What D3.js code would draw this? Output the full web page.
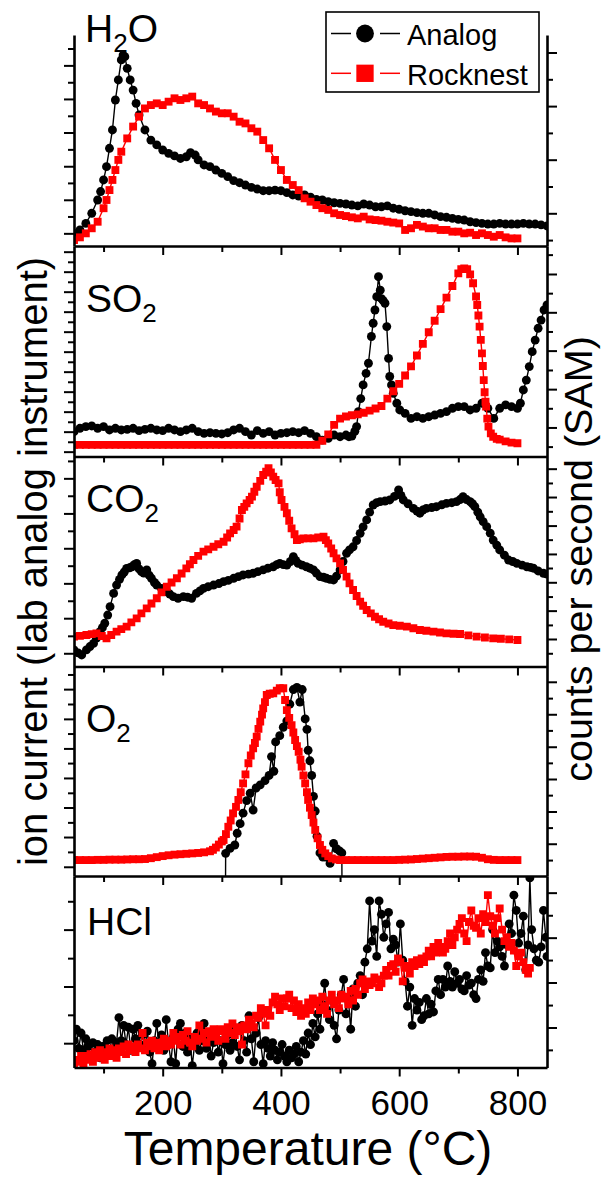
<!DOCTYPE html>
<html><head><meta charset="utf-8">
<script src="https://cdn.jsdelivr.net/npm/d3@7"></script>
<style>
body{margin:0;background:#fff}
svg text{font-family:"Liberation Sans",Arial,Helvetica,sans-serif}
</style>
</head><body>
<svg id="c" width="605" height="1178"></svg>
<script>
// ---------------- DATA (values in % of each panel's height) ----------------
const seriesNames = ["Analog", "Rocknest"];
const panelLabels = [["H","2","O"], ["SO","2",""], ["CO","2",""], ["O","2",""], ["HCl","",""]];
const xMajorTicks = [200, 400, 600, 800];
const xMinorTicks = [100, 300, 500, 700];
const xTitle = "Temperature (\u00B0C)";
const leftTitle = "ion current (lab analog instrument)";
const rightTitle = "counts per second (SAM)";

const h2oAnalog = [[50,6.0],[60,7.6],[70,10.7],[80,15.5],[90,21.8],[95,25.8],[100,31.3],[105,37.6],[110,46.3],[115,55],[120,69.2],[125,78.7],[130,88.2],[133,90.5],[136,89.7],[140,84.2],[145,78.7],[150,73.9],[155,67.6],[160,62.1],[170,55],[180,50.2],[190,47.9],[200,45.5],[210,43.9],[220,42.7],[230,41.5],[240,42.3],[247,44.2],[255,43.1],[260,40.8],[270,38.4],[280,37.6],[290,36],[300,34.4],[310,32.9],[320,31],[330,30],[340,28.9],[350,27.8],[360,27],[370,26.2],[380,26.2],[390,26.5],[400,26.2],[410,25.3],[420,24.2],[430,23.7],[440,24.2],[450,23.1],[460,22.1],[470,21.8],[480,21],[490,20.5],[500,20.2],[510,19.9],[520,19.4],[530,19],[540,19.9],[550,19.4],[560,18.6],[570,18.6],[580,19],[590,17.9],[600,17.4],[610,16.7],[620,16.3],[630,15.8],[640,15.5],[650,15.5],[660,14.7],[670,13.9],[680,13.6],[690,13.1],[700,12.6],[710,12.3],[720,11.5],[730,11.1],[740,10.7],[750,10.4],[760,10.4],[770,10.7],[780,10.4],[790,10.4],[800,10.4],[810,10.7],[820,10.4],[830,10.4],[840,10],[850,9.5]];
const h2oRocknest = [[50,2.8],[60,4.1],[70,6],[80,8.4],[90,11.5],[100,17.9],[105,21.8],[110,26.5],[115,31.3],[120,36],[125,40.8],[130,44.7],[140,51],[150,56.6],[160,61.3],[170,65.2],[180,66.8],[190,67.6],[200,66.8],[210,68.4],[220,70],[230,69.2],[240,70],[250,70.8],[260,67.6],[270,66.8],[280,65.2],[290,63.7],[300,62.9],[310,62.9],[320,61.3],[330,58.9],[340,58.1],[350,55.8],[360,54.2],[370,50.2],[380,46.3],[390,40.8],[400,36],[410,31.3],[420,28.9],[430,26.5],[440,22.6],[450,21],[460,19.4],[470,17.9],[480,17.1],[490,15.5],[500,14.7],[510,14.2],[520,13.6],[530,13.1],[540,13.9],[550,12.6],[560,12.3],[570,12],[580,11.5],[590,11.1],[600,10.7],[610,7.6],[620,8.4],[630,10],[640,9.2],[650,8.4],[660,8.4],[670,7.6],[680,7.6],[690,6.8],[700,6.8],[710,6],[720,6.3],[730,5.2],[740,6],[750,5.2],[760,4.4],[770,5.2],[780,4.1],[790,3.6],[800,3.6]];

const so2Analog = [[50,11.8],[60,13.4],[70,14.2],[80,14.5],[90,13.4],[100,14.2],[110,12.6],[120,13.4],[130,12.6],[140,12.9],[150,13.4],[160,12.3],[170,12.9],[180,13.4],[190,12.6],[200,12.3],[210,13.4],[220,12.6],[230,11.8],[240,12.6],[250,13.4],[260,11.8],[270,11],[280,11.3],[290,11],[300,10.7],[310,11.3],[320,12.6],[330,13.4],[340,11.8],[350,10.2],[360,12.3],[370,11],[380,11.8],[390,10.2],[400,11],[410,11.3],[420,11.8],[430,11.3],[440,12.3],[450,11],[460,9.4],[470,7.8],[480,8.6],[490,10.2],[500,9.4],[510,10.2],[515,9.4],[520,9.7],[525,12],[528,14.2],[531,21.3],[535,27.5],[539,34],[544,39.5],[548,44.3],[553,57],[556,63.3],[559,69.6],[562,75.9],[565,85.4],[568,79],[570,75],[573,74],[576,72.8],[579,61.7],[582,46.6],[584,38],[587,34],[590,30],[596,25.3],[601,22.1],[610,20.5],[620,18.1],[630,18.9],[640,18.1],[650,18.9],[660,19.7],[670,20.5],[680,21.3],[690,22.9],[700,23.7],[710,23.7],[720,22.1],[730,22.9],[740,25.3],[750,22.9],[760,18.1],[770,22.9],[780,24.5],[790,23.7],[800,22.9],[805,25.3],[810,31.6],[815,36.3],[820,42.7],[825,49.8],[830,55.3],[835,60.9],[840,64.8],[845,69.6],[850,72]];
const so2Rocknest = [[50,5.5],[60,5.5],[70,5.5],[80,5.5],[90,5.5],[100,5.5],[110,5.5],[120,5.5],[130,5.5],[140,5.5],[150,5.5],[160,5.5],[170,5.5],[180,5.5],[190,5.5],[200,5.5],[210,5.5],[220,5.5],[230,5.5],[240,5.5],[250,5.5],[260,5.5],[270,5.5],[280,5.5],[290,5.5],[300,5.5],[310,5.5],[320,5.5],[330,5.5],[340,5.5],[350,5.5],[360,5.5],[370,5.5],[380,5.5],[390,5.5],[400,5.5],[410,5.5],[420,5.5],[430,5.5],[440,5.5],[450,5.5],[460,5.6],[470,7.5],[480,10.5],[490,15],[500,18],[510,19],[520,19.6],[530,20],[540,20.8],[550,21.8],[560,22.8],[570,24],[580,27.5],[590,31],[600,34.5],[610,38.5],[620,42.8],[630,48],[640,53.5],[650,59],[660,64.5],[670,70],[680,75.5],[690,81],[700,87],[705,89],[710,89.4],[715,89],[720,86.5],[725,82.3],[730,76],[732,72],[734,67],[736,61.7],[738,55.4],[740,49],[741.5,43],[743,36.3],[744.5,30.5],[746,26],[747,23.7],[749,18],[751,14.2],[755,11],[759,9.4],[765,8.4],[770,8],[780,7.2],[790,6.6],[800,6.3]];

const co2Analog = [[50,7.9],[57,6.5],[63,5.5],[71,7.9],[77,9.5],[83,11],[88,13.5],[94,16.6],[98,18.5],[102,20.6],[107,24.5],[111,28.5],[117,34.8],[122,38.8],[127,41.5],[131,43.6],[135,45],[139,46.7],[144,47],[148,47.5],[152,48.5],[156,49.1],[160,46.5],[164,45.2],[168,44.5],[173,46],[177,43.5],[181,42],[186,40],[190,38.8],[198,37.2],[207,35.6],[212,34.5],[218,33.3],[226,32.5],[235,33.3],[242,33],[249,32.5],[257,34.8],[263,36],[269,37.2],[277,38],[286,38.8],[295,39.5],[303,40.4],[311,41],[320,42],[328,42.8],[336,43.6],[345,44],[353,44.4],[361,45.2],[370,46],[378,46.8],[387,47.5],[393,48.5],[398,49.1],[404,48.5],[410,48.3],[416,50],[421,52.3],[425,50.5],[429,49.1],[436,48.3],[443,47.5],[449,46.8],[455,46],[460,44.5],[466,42.8],[472,42.5],[477,42],[483,41.5],[489,41.2],[494,43],[500,46],[505,50],[511,53.9],[516,55.5],[522,57],[528,60],[534,63.4],[539,66.5],[545,69.8],[550,73.5],[556,76.9],[562,78],[568,78.5],[576,78.8],[584,79.3],[592,81],[599,84.1],[603,81.5],[607,79.3],[615,77.5],[624,75.3],[630,74],[635,73],[640,74.5],[646,75.3],[655,75.7],[663,76.1],[672,77],[680,77.7],[689,78],[697,78.5],[703,79.5],[708,80.9],[714,79.5],[720,78.5],[724,77.5],[728,76.1],[733,73.5],[737,71.3],[742,69],[748,66.6],[754,63.5],[759,60.2],[765,57.8],[770,55.5],[778,53],[785,50.7],[792,50],[799,49.1],[808,48.3],[816,47.5],[822,47.2],[827,46.8],[835,45.5],[844,44.4],[850,44]];
const co2Rocknest = [[50,14.2],[60,14.6],[71,15],[80,15.4],[88,15.8],[97,14.5],[105,13.4],[113,15],[122,16.6],[130,17.8],[139,19],[147,21],[156,22.9],[164,25.3],[173,27.7],[181,30],[190,32.5],[198,35.3],[207,38],[215,40],[224,42],[232,44.3],[240,46.7],[246,48.7],[252,50.7],[260,52.7],[269,54.7],[277,55.8],[286,57],[294,58.2],[303,59.4],[309,61.4],[314,63.4],[320,65],[325,66.6],[330,70.5],[334,74.5],[338,76],[342,77.7],[347,79.3],[351,80.9],[355,83.2],[359,85.6],[365,88.4],[370,91.2],[375,92.8],[379,94.4],[383,92.4],[387,90.4],[391,88.8],[396,87.2],[398,83],[401,79.3],[406,76],[410,73],[414,69.4],[418,65.8],[423,63],[427,60.2],[432,60.6],[438,61],[446,61],[455,61],[463,61.4],[472,61.8],[476,60.2],[480,58.6],[485,56.2],[489,53.9],[494,51.5],[500,49.1],[505,46],[511,42.8],[516,39.6],[522,36.4],[528,33.6],[534,30.9],[539,28.9],[545,26.9],[552,25.3],[559,23.7],[566,22.5],[573,21.3],[582,20.5],[590,19.7],[601,19.4],[613,19],[624,18.2],[635,17.4],[646,17],[658,16.6],[669,16.2],[680,15.8],[692,15.6],[703,15.5],[717,14.8],[731,14.2],[745,13.8],[759,13.4],[772,13.2],[786,12.9],[800,12.6]];

const o2Analog = [[306,-20],[306.5,10.8],[314,13.2],[322,14.8],[326,20.4],[331,25],[336,30],[342,36],[348,39.5],[353,31.5],[358,42],[365,43.5],[373,45.5],[380,48],[384,57],[388,50],[391,64],[398,67],[404,71],[410,74],[415,82],[421,89],[427,90],[432,83],[436,89],[441,75],[444,70],[446,60],[449,55],[452,48],[455,38],[458,31],[461,19],[466,11],[471,9],[476,9],[483,6],[489,15.6],[494,13],[499,12],[503,11],[503.5,-20]];
const o2Rocknest = [[50,7.6],[60,7.6],[70,7.6],[80,7.6],[90,7.7],[100,7.7],[110,7.8],[120,7.8],[130,7.8],[140,7.9],[150,8],[160,8],[170,8.1],[180,8.5],[190,9],[200,9.5],[210,9.9],[220,10.2],[230,10.4],[240,10.6],[250,10.8],[260,11],[270,11.3],[280,11.8],[285,12.5],[290,13.6],[295,15],[300,16.5],[303,17.2],[307,20],[311,23.5],[315,26.5],[319,29.9],[324,33],[328,36.3],[332,40],[336,44.2],[340,48.5],[345,53.8],[349,57.5],[353,60.9],[356,63.5],[359,66.5],[362,70.2],[365,73.7],[368,77],[370,80],[373,83],[376,86.4],[381,87],[387,87.2],[393,88.5],[398,89.6],[404,89.6],[407,84],[410,79.2],[414,75.5],[418,72],[421,68.5],[424,64.9],[427,62],[430,59.3],[433,55.5],[435,52.2],[438,48],[441,44.2],[444,40],[446,36.3],[449,32.6],[452,29.1],[455,25.5],[458,22],[462,18],[466,14.8],[470,12.5],[475,10.8],[480,9.5],[486,8.4],[493,7.9],[500,7.6],[510,7.6],[520,7.6],[530,7.6],[540,7.6],[550,7.6],[560,7.6],[570,7.6],[580,7.6],[590,7.6],[600,7.7],[610,7.8],[620,7.9],[630,8.1],[640,8.3],[650,8.5],[660,8.7],[670,8.9],[680,9.1],[690,9.2],[700,9.2],[710,9.3],[720,9.3],[730,9.2],[740,8.7],[750,8],[760,7.7],[770,7.6],[780,7.6],[790,7.6],[800,7.6]];

const hclAnalog = [[50,14],[54,20],[58,10],[62,18],[66,9],[70,15],[74,11],[78,6],[82,13],[86,8],[90,12],[94,5],[98,11],[102,9],[106,14],[110,8],[114,15],[118,10],[122,13],[126,26],[130,14],[134,22],[138,12],[142,21],[146,9],[150,20],[154,15],[158,22],[162,12],[166,17],[170,10],[174,19],[178,8],[182,2],[186,14],[190,23],[194,11],[198,17],[202,9],[206,25],[210,12],[214,3],[218,16],[222,2],[226,20],[230,23],[234,11],[238,18],[242,8],[246,15],[250,1],[254,12],[258,18],[262,9],[266,14],[270,23],[274,10],[278,16],[282,6],[286,13],[290,19],[294,8],[298,14],[302,2],[306,12],[310,17],[314,9],[318,13],[322,20],[326,11],[330,4],[334,22],[338,14],[342,8],[346,27],[350,15],[354,3],[358,18],[362,26],[366,12],[370,2],[374,14],[378,10],[382,6],[386,13],[390,9],[394,4],[398,8],[402,12],[406,6],[410,3],[414,9],[418,5],[422,7],[426,11],[430,3],[434,8],[438,14],[442,7],[446,18],[450,12],[454,23],[458,16],[462,28],[466,20],[470,33],[474,44],[478,30],[482,25],[486,35],[490,22],[494,15],[498,30],[502,38],[506,46],[510,28],[514,36],[518,20],[522,41],[526,32],[530,44],[534,48],[538,38],[542,55],[546,62],[550,87],[554,66],[558,72],[562,58],[566,87],[570,80],[574,68],[578,75],[582,81],[586,62],[590,67],[594,64],[598,55],[602,75],[606,56],[610,45],[614,32],[618,42],[622,22],[626,36],[630,30],[634,34],[638,25],[642,27],[646,36],[650,28],[654,33],[658,29],[662,40],[666,46],[670,38],[674,46],[678,42],[682,53],[686,45],[690,42],[694,50],[698,44],[702,46],[706,41],[710,40],[714,48],[718,43],[722,44],[726,38],[730,36],[734,46],[738,51],[742,45],[746,60],[750,53],[754,52],[758,72],[762,60],[766,66],[770,63],[774,58],[778,53],[782,64],[786,75],[790,70],[794,90],[798,82],[802,65],[806,70],[810,79],[814,51],[818,64],[821,99],[824,72],[828,62],[832,56],[836,55],[840,63],[844,82],[848,68],[850,58]];
const hclRocknest = [[50,2],[54,4],[58,3],[62,6],[66,2],[70,6],[74,4],[78,7],[82,3],[86,8],[90,5],[94,9],[98,6],[102,4],[106,8],[110,10],[114,6],[118,9],[122,5],[126,10],[130,8],[134,11],[138,7],[142,12],[146,9],[150,11],[154,8],[158,12],[162,10],[166,18],[170,9],[174,13],[178,11],[182,14],[186,10],[190,13],[194,9],[198,12],[202,15],[206,11],[210,14],[214,12],[218,18],[222,14],[226,16],[230,12],[234,17],[238,14],[242,19],[246,13],[250,11],[254,16],[258,14],[262,22],[266,15],[270,18],[274,13],[278,19],[282,16],[286,20],[290,17],[294,14],[298,20],[302,19],[306,15],[310,21],[314,18],[318,23],[322,17],[326,21],[330,19],[334,12],[338,22],[342,20],[346,25],[350,23],[354,21],[358,27],[362,26],[366,31],[370,28],[374,22],[378,30],[382,27],[386,34],[390,37],[394,33],[398,30],[402,36],[406,32],[410,36],[414,38],[418,31],[422,35],[426,29],[430,33],[434,27],[438,31],[442,28],[446,34],[450,30],[454,36],[458,33],[462,35],[466,30],[470,37],[474,32],[478,28],[482,35],[486,38],[490,33],[494,35],[498,31],[502,38],[506,36],[510,37],[514,33],[518,40],[522,35],[526,41],[530,38],[534,44],[538,46],[542,41],[546,45],[550,43],[554,44],[558,47],[562,46],[566,42],[570,44],[574,48],[578,51],[582,48],[586,53],[590,54],[594,50],[598,57],[602,55],[606,45],[610,52],[614,53],[618,49],[622,55],[626,53],[630,56],[634,54],[638,57],[642,55],[646,58],[650,61],[654,58],[658,63],[662,60],[666,65],[670,63],[674,60],[678,62],[682,66],[686,70],[690,64],[694,68],[698,72],[702,75],[706,78],[710,70],[714,66],[718,76],[722,82],[726,74],[730,73],[734,78],[738,70],[742,80],[746,76],[750,90],[754,79],[758,74],[762,70],[766,78],[770,83],[774,72],[778,66],[782,68],[786,63],[790,65],[794,61],[798,53],[802,58],[806,60],[810,55],[814,51],[818,49],[821,52]];

// y tick positions (same % units)
const leftTicks = [
  [6.0,14.0,21.9,29.9,37.8,45.8,53.8,61.7,69.7,77.6,85.6,93.6],
  [2.3,7.0,11.8,16.5,21.3,26.0,30.8,35.5,40.3,45.0,49.8,54.5,59.3,64.0,68.8,73.5,78.3,83.0,87.8,92.5,97.3],
  [6.3,14.6,23.0,31.3,39.6,48.0,56.3,64.6,72.9,81.3,89.6,97.9],
  [4.4,11.5,18.6,25.6,32.7,39.7,46.8,53.9,60.9,68.0,75.0,82.1,89.2,96.2],
  [12.7,27.5,42.3,57.1,72.0,86.8]
];
const rightTicks = [
  [2.8,15.5,28.2,40.9,53.6,66.3,79.0,91.7],
  [4.7,13.8,22.9,32.0,41.1,50.3,59.4,68.5,77.6,86.7,95.9],
  [6.3,13.1,19.8,26.6,33.3,40.1,46.9,53.6,60.4,67.1,73.9,80.7,87.4,94.2],
  [7.6,15.4,23.1,30.8,38.6,46.3,54.0,61.7,69.5,77.2,84.9,92.7],
  [9.2,20.9,32.6,44.4,56.1,67.8,79.5,91.3]
];

const analogSeries = [h2oAnalog, so2Analog, co2Analog, o2Analog, hclAnalog];
const rocknestSeries = [h2oRocknest, so2Rocknest, co2Rocknest, o2Rocknest, hclRocknest];

// ---------------- LAYOUT ----------------
const svg = d3.select("#c");
const X0 = 74, X1 = 547;
const panelTop = [35, 246, 456.5, 666.5, 876];
const panelBottom = [246, 456.5, 666.5, 876, 1067.5];
const labelPos = [[85, 41.7], [86, 311.7], [86, 511.7], [86, 731.7], [87, 935]];
const x = d3.scaleLinear().domain([50, 850]).range([X0, X1]);
const black = "#000", red = "#ff0000";

function styleAxis(g, keepDomain) {
  g.selectAll(".domain").attr("stroke", "#000").attr("stroke-width", 2.6);
  if (!keepDomain) g.select(".domain").remove();
  g.selectAll(".tick line").attr("stroke", "#000").attr("stroke-width", 2);
}

function drawSeries(g, data, y, color, isCircle) {
  g.append("path").datum(data)
    .attr("d", d3.line().x(d => x(d[0])).y(d => y(d[1])))
    .attr("fill", "none").attr("stroke", color).attr("stroke-width", 1.4);
  const sym = d3.symbol().type(isCircle ? d3.symbolCircle : d3.symbolSquare).size(isCircle ? 62 : 62);
  g.selectAll(null).data(data).join("path")
    .attr("transform", d => `translate(${x(d[0])},${y(d[1])})`)
    .attr("d", sym).attr("fill", color);
}

const defs = svg.append("defs");
for (let i = 0; i < 5; i++) {
  const top = panelTop[i], bot = panelBottom[i];
  const yL = d3.scaleLinear().domain([0, 100]).range([bot, top]);
  const yR = d3.scaleLinear().domain([0, 100]).range([bot, top]);
  defs.append("clipPath").attr("id", "clip" + i).append("rect")
    .attr("x", X0).attr("y", top).attr("width", X1 - X0).attr("height", bot - top);
  const g = svg.append("g").attr("clip-path", `url(#clip${i})`);
  drawSeries(g, analogSeries[i], yL, black, true);
  drawSeries(g, rocknestSeries[i], yR, red, false);

  // left axis
  const lMaj = leftTicks[i].filter((d, j) => j % 2 === 0), lMin = leftTicks[i].filter((d, j) => j % 2 === 1);
  svg.append("g").attr("transform", `translate(${X0},0)`)
    .call(d3.axisLeft(yL).tickValues(lMaj).tickSize(10).tickSizeOuter(0).tickFormat(""))
    .call(g2 => styleAxis(g2, true));
  svg.append("g").attr("transform", `translate(${X0},0)`)
    .call(d3.axisLeft(yL).tickValues(lMin).tickSize(6).tickSizeOuter(0).tickFormat(""))
    .call(g2 => styleAxis(g2, false));
  // right axis
  const rMaj = rightTicks[i].filter((d, j) => j % 2 === 1), rMin = rightTicks[i].filter((d, j) => j % 2 === 0);
  svg.append("g").attr("transform", `translate(${X1},0)`)
    .call(d3.axisRight(yR).tickValues(rMaj).tickSize(10).tickSizeOuter(0).tickFormat(""))
    .call(g2 => styleAxis(g2, true));
  svg.append("g").attr("transform", `translate(${X1},0)`)
    .call(d3.axisRight(yR).tickValues(rMin).tickSize(6).tickSizeOuter(0).tickFormat(""))
    .call(g2 => styleAxis(g2, false));
  // bottom axis
  const last = i === 4;
  const gx = svg.append("g").attr("transform", `translate(0,${bot})`)
    .call(d3.axisBottom(x).tickValues(xMajorTicks).tickSize(9).tickSizeOuter(0)
      .tickFormat(last ? d3.format("d") : ""))
    .call(g2 => styleAxis(g2, true));
  gx.attr("font-size", null).attr("font-family", null);
  gx.selectAll("text").attr("dy", null).attr("y", 47.5)
    .attr("font-size", 35).attr("fill", "#000");
  svg.append("g").attr("transform", `translate(0,${bot})`)
    .call(d3.axisBottom(x).tickValues(xMinorTicks).tickSize(6).tickSizeOuter(0).tickFormat(""))
    .call(g2 => styleAxis(g2, false));

  // panel label
  const lab = panelLabels[i];
  const t = svg.append("text").attr("x", labelPos[i][0]).attr("y", labelPos[i][1])
    .attr("font-size", 39).attr("fill", "#000");
  t.append("tspan").text(lab[0]);
  if (lab[1]) t.append("tspan").attr("dy", 10).attr("font-size", 26).text(lab[1]);
  if (lab[2]) t.append("tspan").attr("dy", -10).text(lab[2]);
}

// legend
const lg = svg.append("g");
lg.append("rect").attr("x", 326).attr("y", 12).attr("width", 213).attr("height", 80)
  .attr("fill", "#fff").attr("stroke", "#000").attr("stroke-width", 1.6);
const legendY = [33.5, 73.3];
seriesNames.forEach((name, k) => {
  const col = k === 0 ? black : red;
  const yy = legendY[k];
  lg.append("line").attr("x1", 331).attr("x2", 351).attr("y1", yy).attr("y2", yy).attr("stroke", col).attr("stroke-width", 1.5);
  lg.append("line").attr("x1", 380).attr("x2", 400).attr("y1", yy).attr("y2", yy).attr("stroke", col).attr("stroke-width", 1.5);
  lg.append("path").attr("transform", `translate(365,${yy})`)
    .attr("d", d3.symbol().type(k === 0 ? d3.symbolCircle : d3.symbolSquare).size(k === 0 ? 250 : 300)())
    .attr("fill", col);
  lg.append("text").attr("x", 407).attr("y", yy + 11.5).attr("font-size", 29).attr("fill", "#000").text(name);
});

// axis titles
svg.append("text").attr("x", 308).attr("y", 1165).attr("text-anchor", "middle")
  .attr("font-size", 48).attr("fill", "#000").text(xTitle);
svg.append("text").attr("transform", "translate(47,561.5) rotate(-90)").attr("text-anchor", "middle")
  .attr("font-size", 40).attr("fill", "#000").text(leftTitle);
svg.append("text").attr("transform", "translate(592,559) rotate(-90)").attr("text-anchor", "middle")
  .attr("font-size", 39.5).attr("fill", "#000").text(rightTitle);
</script>
</body></html>
